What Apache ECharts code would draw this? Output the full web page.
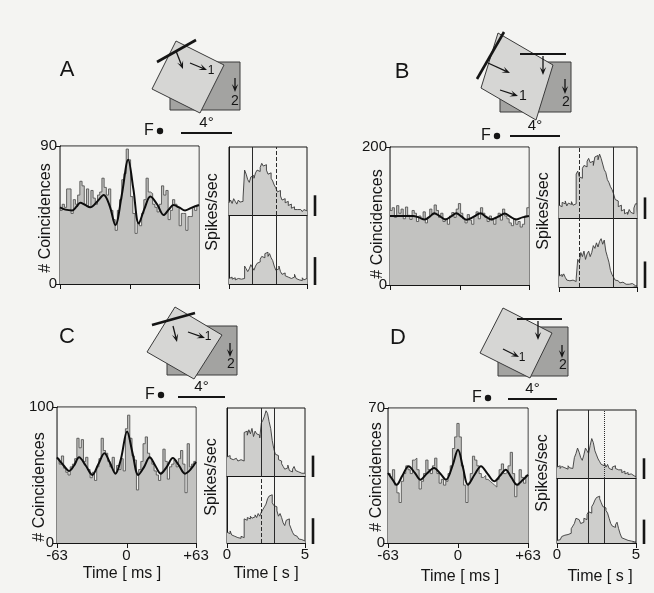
<!DOCTYPE html>
<html><head><meta charset="utf-8">
<script src="https://cdn.jsdelivr.net/npm/echarts@6/dist/echarts.min.js"></script>
<style>html,body{margin:0;padding:0;background:#f4f4f2;}#c{width:654px;height:593px;}</style>
</head><body><div id="c"></div>
<script>
// ---------- DATA ----------
const lagCenters = [-62,-60,-58,-56,-54,-52,-50,-48,-46,-44,-42,-40,-38,-36,-34,-32,-30,-28,-26,-24,-22,-20,-18,-16,-14,-12,-10,-8,-6,-4,-2,0,2,4,6,8,10,12,14,16,18,20,22,24,26,28,30,32,34,36,38,40,42,44,46,48,50,52,54,56,58,60,62];
const lagBinMs = 2;
const corrA = [48,52,50,62,62,46,55,52,58,67, 64,52,62,50,61,56,52,58,60,69, 63,58,62,48,42,35,48,55,68,72, 88,81,57,46,33,40,38,46,55,69, 60,59,52,50,47,52,64,58,61,42, 48,55,52,50,38,46,46,35,44,44, 50,48,51];
const corrB = [108,112,98,115,104,110,96,113,101,95, 108,104,92,100,96,106,90,98,110,102, 116,108,98,104,92,96,88,100,105,98, 110,118,104,96,90,102,94,88,100,106, 96,112,104,98,92,100,94,88,98,104, 94,110,100,96,90,86,96,88,92,84, 88,100,112];
const corrC = [62,58,64,55,52,50,56,58,62,77, 70,76,60,63,54,48,52,46,56,62, 77,68,66,60,56,63,52,57,54,62, 53,84,94,77,64,61,39,54,60,73, 78,66,62,58,53,50,46,52,69,60, 47,56,58,61,56,62,68,58,37,73, 56,58,60];
const corrD = [36,34,38,30,26,21,32,36,40,38, 36,43,44,38,28,32,36,43,38,36, 40,44,36,31,33,30,32,36,40,49, 55,62,55,40,30,21,31,36,45,43, 40,36,34,35,33,32,31,30,29,33, 38,41,36,37,40,47,36,24,30,38, 34,31,35];

const fitLagA = [-63,-58,-52,-48,-44.7,-40,-35.6,-29,-23.4,-18,-12.8,-7,-1.2,3.5,8.4,13.5,18.9,25,30.9,35.5,39.9,45,50.4,57,63];
const fitA    = [50,48.5,48,50.5,53,51.5,50,54,58,51,38.5,58,81,62,39.5,49,57,52,45,48.5,51.5,50,48,50,51.5];
const fitLagB = [-63,-50,-42,-37,-31.5,-27,-22.9,-18,-12.9,-8,-2.9,2,6.4,13,19,24,28.6,35,41,46,51,57,63];
const fitB    = [100,100,100,98,95,99,104,100,95,99,104,99,94.5,99,104,99,95,99,103.5,99,95,98,100];
const fitLagC = [-63,-57,-52,-47.5,-43,-37,-31,-25.5,-20,-15,-10,-5,0.5,5.5,10.7,16,21,26,31,36.5,42,47.5,53,58,63];
const fitC    = [63,57,53,57,63,57,50,58,66,59,51,62,82,66,50,56,63,57,51,56,62.5,57,51,54,59.5];
const fitLagD = [-63,-59,-55.3,-50,-44.5,-39,-33.8,-28,-21.5,-16,-10.8,-5,0,4.5,8.9,15,20.7,26.5,32.6,38,42.9,48,53.2,58,63];
const fitD    = [36.3,33,30.2,35,39.8,36.5,32.8,36,38.9,36,32.8,40,48.4,39,30.2,35.5,39.8,36,32,35,38,34,30.2,32.5,35.4];

const corrMax = [90, 200, 100, 70];
const corrXTickVals = [-63, 0, 63];
const corrXTicks = ['-63', '0', '+63'];

const psthBinS = 0.1;
const psthA1 = [18,22,17,24,20,16,22,19,20,25, 66,60,52,48,56,58,54,62,66,64, 70,76,72,74,66,60,62,54,50,44, 40,34,36,28,22,24,18,20,14,16, 10,12,8,8,6,8,7,5,8,6];
const psthA2 = [8,10,7,9,6,8,10,7,9,8, 26,22,18,22,28,24,20,26,30,32, 36,40,38,44,46,40,44,38,34,26, 20,22,26,18,14,16,12,10,12,8, 6,10,14,8,6,7,5,9,6,8];
const psthB1 = [18,16,22,20,24,17,21,19,23,18, 20,62,66,58,56,70,74,72,80,84, 78,80,74,86,88,82,90,84,76,68, 64,54,50,44,40,34,26,24,16,18, 10,12,6,8,5,12,8,6,14,20];
const psthB2 = [16,18,15,19,14,10,9,8,10,9, 8,12,40,36,50,44,52,40,48,52, 44,50,60,56,64,58,66,70,62,68, 52,44,36,24,18,14,10,9,8,6, 7,5,4,6,4,3,5,3,2,2];
const psthC1 = [28,30,26,24,22,26,24,22,24,26, 22,64,66,60,68,62,70,58,66,62, 60,56,78,82,88,96,92,80,70,52, 40,32,30,24,22,18,14,10,12,16, 8,6,10,14,8,6,5,4,5,4];
const psthC2 = [16,14,18,12,10,9,8,9,7,10, 8,36,34,38,36,40,37,39,42,38, 44,40,46,50,54,58,66,70,72,60, 56,54,48,40,44,38,30,26,34,36, 28,22,16,12,10,8,6,5,4,3];
const psthD1 = [16,18,14,17,15,16,13,18,15,14, 16,30,36,44,38,30,26,34,44,40, 36,48,58,52,40,34,28,24,20,18, 22,16,20,14,12,16,18,14,12,10, 12,8,10,6,8,5,6,4,3,2];
const psthD2 = [4,5,8,10,12,14,13,16,15,22, 26,30,38,36,34,30,32,38,36,44, 48,46,56,60,66,70,72,68,62,56, 54,50,46,38,30,26,24,28,32,22, 14,8,6,5,4,3,3,2,2,2];
const psthMax = 100;
const psthXTicks = ['0', '5'];

const markersA = [1.5, 3.05], markersB = [1.32, 3.5], markersC = [2.22, 3.0], markersD = [1.95, 2.98];
const scaleBarsA = [29, 39], scaleBarsB = [29, 37], scaleBarsC = [30, 37], scaleBarsD = [29, 36];

const panelLetters = ['A', 'B', 'C', 'D'];

// ---------- LAYOUT / STYLE ----------
const FONT = '"Liberation Sans", Arial, sans-serif';
const INK = '#151515';
const BG = '#f4f4f2';
const layout = [
  {corr:[60,146,139,138], psth:[229,147,78,68,69], marks:[['solid','dashed'],['solid','solid']], xlabels:false,
   letter:[67,70], coinc:[46,218], spikes:[213,212]},
  {corr:[390,147,139,138], psth:[559,147,78,71,69], marks:[['dashed','solid'],['dashed','solid']], xlabels:false,
   letter:[402,72], coinc:[378,224], spikes:[544,211]},
  {corr:[57,407,139,136], psth:[227,408,78,68,67], marks:[['solid','solid'],['dashed','solid']], xlabels:true,
   letter:[67,337], coinc:[40,487], spikes:[212,477], tms:[122,574], ts:[266,574]},
  {corr:[388,408,140,135], psth:[557,410,79,68,65], marks:[['solid','dotted'],['solid','solid']], xlabels:true,
   letter:[398,338], coinc:[377,477], spikes:[543,473], tms:[460,577], ts:[600,577]}
];
const corrData = [corrA, corrB, corrC, corrD];
const fitLags = [fitLagA, fitLagB, fitLagC, fitLagD];
const fits = [fitA, fitB, fitC, fitD];
const psthTop = [psthA1, psthB1, psthC1, psthD1];
const psthBot = [psthA2, psthB2, psthC2, psthD2];
const markers = [markersA, markersB, markersC, markersD];
const scaleBars = [scaleBarsA, scaleBarsB, scaleBarsC, scaleBarsD];

function stepData(centers, vals, half) {
  const d = centers.map((c, i) => [c - half, vals[i]]);
  d.push([centers[centers.length - 1] + half, vals[vals.length - 1]]);
  return d;
}
const psthCenters = psthA1.map((_, i) => psthBinS * (i + 0.5));

function axLine() { return {show:true, onZero:false, lineStyle:{color:INK, width:1}}; }
function noSplit() { return {show:false}; }

const grids = [], xAxes = [], yAxes = [], series = [];
layout.forEach((L, p) => {
  const g0 = grids.length;
  const [cl, ct, cw, ch] = L.corr;
  const [pl, pt, pw, h1, h2] = L.psth;
  const border = () => ({show:true, borderColor:INK, borderWidth:1, backgroundColor:'transparent'});
  grids.push(Object.assign({left:cl, top:ct, width:cw, height:ch}, border()));
  grids.push(Object.assign({left:pl, top:pt, width:pw, height:h1}, border()));
  grids.push(Object.assign({left:pl, top:pt + h1, width:pw, height:h2}, border()));
  xAxes.push({gridIndex:g0, type:'value', min:-63, max:63, interval:126, axisLine:axLine(),
    axisTick:{show:false}, axisLabel:{show:false}, splitLine:noSplit()});
  yAxes.push({gridIndex:g0, type:'value', min:0, max:corrMax[p], interval:corrMax[p], axisLine:axLine(),
    axisTick:{show:true, length:4, lineStyle:{color:INK}},
    axisLabel:{show:true, fontSize:15, color:INK, fontFamily:FONT, margin:3},
    splitLine:noSplit()});
  xAxes.push({gridIndex:g0+1, type:'value', min:0, max:5, interval:5, axisLine:axLine(),
    axisTick:{show:false}, axisLabel:{show:false}, splitLine:noSplit()});
  yAxes.push({gridIndex:g0+1, type:'value', min:0, max:psthMax, axisLine:axLine(),
    axisTick:{show:false}, axisLabel:{show:false}, splitLine:noSplit()});
  xAxes.push({gridIndex:g0+2, type:'value', min:0, max:5, interval:5, axisLine:axLine(),
    axisTick:{show:true, length:5, lineStyle:{color:INK}},
    axisLabel:{show:L.xlabels, fontSize:15, color:INK, fontFamily:FONT, margin:4,
      formatter: v => psthXTicks[Math.round(v / 5)]},
    splitLine:noSplit()});
  yAxes.push({gridIndex:g0+2, type:'value', min:0, max:psthMax, axisLine:axLine(),
    axisTick:{show:false}, axisLabel:{show:false}, splitLine:noSplit()});

  // plain paper-coloured backdrop inside the frame (drawn under the data)
  series.push({type:'line', xAxisIndex:g0, yAxisIndex:g0, symbol:'none', silent:true,
    data: [[-62.5, corrMax[p] * 0.995], [62.5, corrMax[p] * 0.995]],
    lineStyle:{width:0, opacity:0}, areaStyle:{color:BG, opacity:1}, z:2.5});
  series.push({type:'line', xAxisIndex:g0, yAxisIndex:g0, step:'end', symbol:'none', silent:true,
    data: stepData(lagCenters, corrData[p], lagBinMs / 2),
    lineStyle:{color:'#555553', width:0.9}, areaStyle:{color:'#c2c2c0', opacity:1}, z:3});
  series.push({type:'line', xAxisIndex:g0, yAxisIndex:g0, smooth:0.35, symbol:'none', silent:true,
    data: fitLags[p].map((x, i) => [x, fits[p][i]]),
    lineStyle:{color:'#0d0d0d', width:2}, z:4});
  [psthTop[p], psthBot[p]].forEach((vals, k) => {
    series.push({type:'line', xAxisIndex:g0+1+k, yAxisIndex:g0+1+k, step:'end', symbol:'none', silent:true,
      data: stepData(psthCenters, vals, psthBinS / 2),
      lineStyle:{color:'#3a3a3a', width:0.9}, areaStyle:{color:'#cececc', opacity:1}, z:3,
      markLine:{symbol:'none', silent:true, label:{show:false}, animation:false,
        data: markers[p].map((t, j) => ({xAxis:t, lineStyle:{type:L.marks[k][j], color:'#2a2a2a', width:1}}))}});
  });
});

const chart = echarts.init(document.getElementById('c'), null, {renderer:'canvas'});
chart.setOption({backgroundColor:BG, animation:false, grid:grids, xAxis:xAxes, yAxis:yAxes, series:series});

// ---------- GRAPHICS (labels, schematic diagrams, ticks, scale bars) ----------
const G = [];
function txt(x, y, s, size, rot, align) {
  G.push({type:'text', x:x, y:y, rotation:rot || 0, silent:true, z:10,
    style:{text:s, fontSize:size, fontFamily:FONT, fill:INK, align:align || 'center', verticalAlign:'middle'}});
}
function seg(x1, y1, x2, y2, w) {
  G.push({type:'line', silent:true, z:10, shape:{x1:x1, y1:y1, x2:x2, y2:y2}, style:{stroke:INK, lineWidth:w || 1}});
}
function arrow(x1, y1, x2, y2) {
  const a = Math.atan2(y2 - y1, x2 - x1), c = Math.cos(a), s = Math.sin(a);
  const Lh = 8, W = 3.2;
  const bx = x2 - Lh * c, by = y2 - Lh * s;
  seg(x1, y1, x2 - 4 * c, y2 - 4 * s, 1.3);
  G.push({type:'polygon', silent:true, z:10, shape:{points:[[x2, y2], [bx - W * s, by + W * c], [x2 - 0.55 * Lh * c, y2 - 0.55 * Lh * s], [bx + W * s, by - W * c]]},
    style:{fill:INK}});
}
function poly(pts, fill) {
  G.push({type:'polygon', silent:true, z:9, shape:{points:pts}, style:{fill:fill, stroke:'#3a3a3a', lineWidth:1}});
}
function rect(x1, y1, x2, y2, fill) {
  poly([[x1, y1], [x2, y1], [x2, y2], [x1, y2]], fill);
}
function fixation(fx, fy, lx1, lx2, ly) {
  txt(fx, fy, 'F', 16);
  G.push({type:'circle', silent:true, z:10, shape:{cx:fx + 11, cy:fy, r:3.2}, style:{fill:INK}});
  seg(lx1, ly, lx2, ly, 2);
  txt((lx1 + lx2) / 2, ly - 10, '4°', 15);
}
const DARK = '#a3a3a1', LIGHT = '#d6d6d4';
// A
rect(170, 62, 240, 110, DARK);
poly([[176,41],[224,65],[200,113],[152,89]], LIGHT);
seg(157, 62, 196, 40, 2.6);
arrow(176, 51, 183, 69); arrow(190, 63, 207, 70); txt(211, 71, '1', 12);
arrow(235, 78, 235, 92); txt(235, 101, '2', 14);
fixation(149, 131, 181, 232, 133);
// B
rect(500, 62, 571, 112, DARK);
poly([[498,33],[553,65],[536,120],[481,88]], LIGHT);
seg(477, 79, 504, 32, 2.6);
seg(520, 54, 566, 54, 2);
arrow(488, 63, 510, 73); arrow(543, 56, 543, 75);
arrow(500, 90, 518, 96); txt(523, 96, '1', 14);
arrow(565, 79, 565, 94); txt(566, 102, '2', 14);
fixation(486, 136, 510, 560, 136);
// C
rect(167, 326, 237, 375, DARK);
poly([[175,307],[222,335],[194,379],[147,352]], LIGHT);
seg(152, 325, 195, 313, 2.6);
arrow(173, 326, 177, 342); arrow(188, 332, 205, 338); txt(208, 337, '1', 12);
arrow(230, 343, 230, 357); txt(231, 364, '2', 14);
fixation(150, 395, 178, 225, 397);
// D
rect(498, 327, 568, 376, DARK);
poly([[503,308],[552,333],[530,378],[480,353]], LIGHT);
seg(517, 319, 562, 319, 2);
arrow(538, 321, 538, 340);
arrow(503, 349, 519, 357); txt(522, 358, '1', 12);
arrow(562, 345, 562, 358); txt(563, 365, '2', 14);
fixation(477, 398, 508, 557, 399);

layout.forEach((L, p) => {
  const gc = p * 3;
  txt(L.letter[0], L.letter[1], panelLetters[p], 22);
  txt(L.coinc[0], L.coinc[1], '# Coincidences', 16, Math.PI / 2);
  txt(L.spikes[0], L.spikes[1], 'Spikes/sec', 16, Math.PI / 2);
  if (L.tms) { txt(L.tms[0], L.tms[1], 'Time [ ms ]', 16); txt(L.ts[0], L.ts[1], 'Time [ s ]', 16); }
  corrXTickVals.forEach((v, i) => {
    const q = chart.convertToPixel({gridIndex:gc}, [v, 0]);
    const x = Math.round(q[0]) + 0.5;
    seg(x, q[1], x, q[1] + 5, 1);
    if (L.xlabels) txt(q[0], q[1] + 13, corrXTicks[i], 15);
  });
  [0, 1].forEach(k => {
    const gi = gc + 1 + k;
    const a = chart.convertToPixel({gridIndex:gi}, [5, 0]);
    const b = chart.convertToPixel({gridIndex:gi}, [5, scaleBars[p][k]]);
    G.push({type:'line', silent:true, z:10, shape:{x1:a[0] + 8, y1:a[1] + 1, x2:b[0] + 8, y2:b[1]}, style:{stroke:INK, lineWidth:2.6}});
  });
});
chart.setOption({graphic:G});
</script></body></html>
